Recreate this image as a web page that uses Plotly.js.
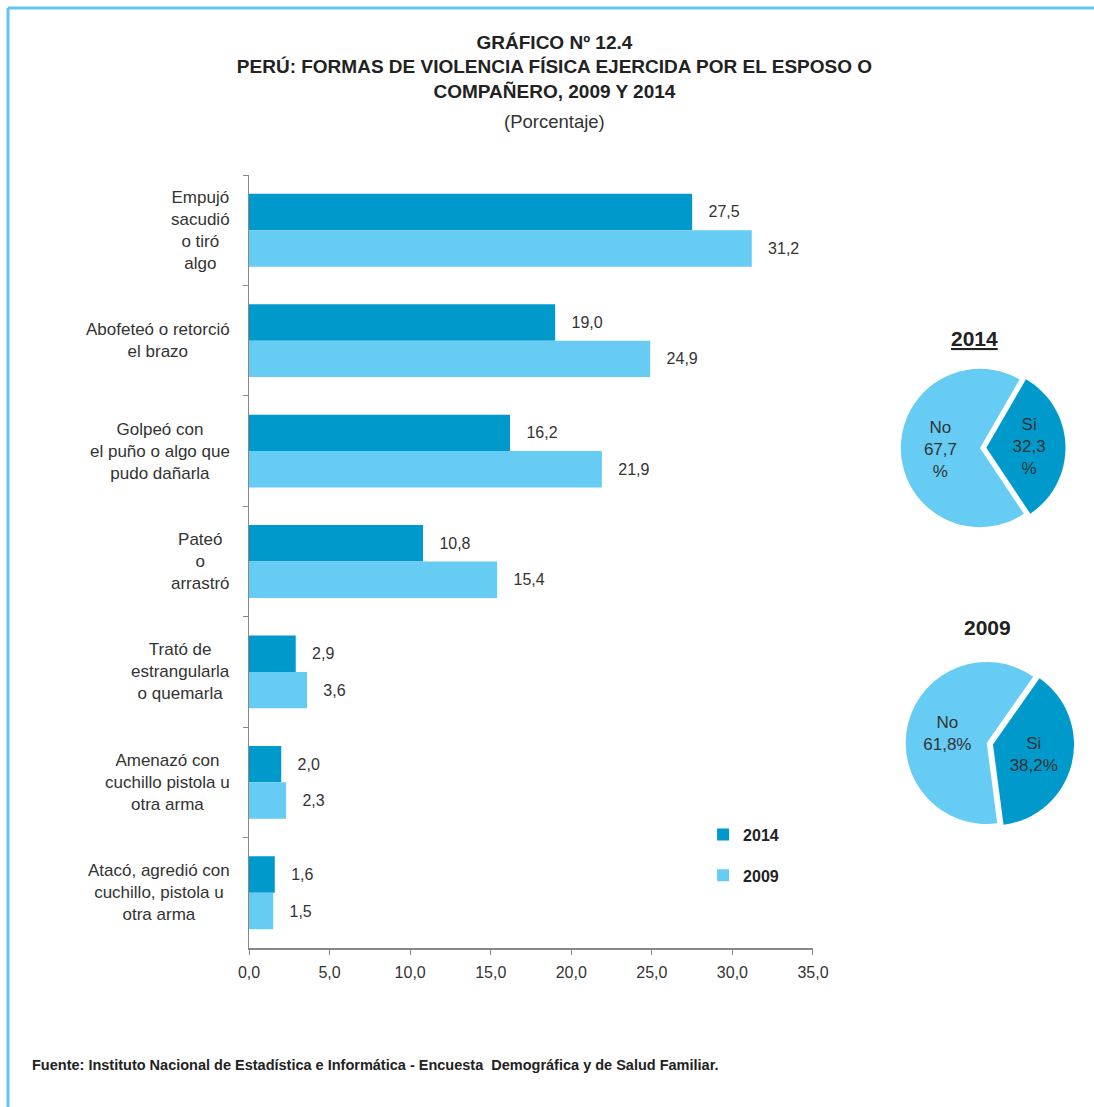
<!DOCTYPE html>
<html>
<head>
<meta charset="utf-8">
<script src="https://cdn.plot.ly/plotly-3.0.1.min.js"></script>
<style>
  html, body { margin: 0; padding: 0; background: #ffffff; }
  #chart { width: 1094px; height: 1107px; }
</style>
</head>
<body>
<div id="chart"></div>
<script>
// ---- Data ----
const categories = [
  "Empujó<br>sacudió<br>o tiró<br>algo",
  "Abofeteó o retorció<br>el brazo",
  "Golpeó con<br>el puño o algo que<br>pudo dañarla",
  "Pateó<br>o<br>arrastró",
  "Trató de<br>estrangularla<br>o quemarla",
  "Amenazó con<br>cuchillo pistola u<br>otra arma",
  "Atacó, agredió con<br>cuchillo, pistola u<br>otra arma"
];
const values2014 = [27.5, 19.0, 16.2, 10.8, 2.9, 2.0, 1.6];
const values2009 = [31.2, 24.9, 21.9, 15.4, 3.6, 2.3, 1.5];
const pieLabels = ["Si", "No"];
const pie2014 = [32.3, 67.7];
const pie2009 = [38.2, 61.8];
const xTicks = [0, 5, 10, 15, 20, 25, 30, 35];

// ---- Style ----
const FONT = "'Liberation Sans Narrow', 'Arial Narrow', 'Liberation Sans', Arial, sans-serif";
const DARK = "#0099cc";
const LIGHT = "#66ccf4";
const TXT = "#333333";
const BORDER = "#5fc6ee";

const traces = [
  {
    type: "bar", orientation: "h", name: "2014", legendgroup: "a",
    y: categories, x: values2014,
    marker: { color: DARK },
    texttemplate: "\u00a0\u00a0\u00a0%{x:.1f}", textposition: "outside",
    textfont: { family: FONT, size: 16, color: TXT },
    cliponaxis: false, hoverinfo: "skip"
  },
  {
    type: "bar", orientation: "h", name: "2009", legendgroup: "b",
    y: categories, x: values2009,
    marker: { color: LIGHT },
    texttemplate: "\u00a0\u00a0\u00a0%{x:.1f}", textposition: "outside",
    textfont: { family: FONT, size: 16, color: TXT },
    cliponaxis: false, hoverinfo: "skip"
  },
  {
    type: "pie", labels: pieLabels, values: pie2014, sort: false,
    direction: "clockwise", rotation: 30, pull: [0.08, 0],
    marker: { colors: [DARK, LIGHT], line: { width: 0 } },
    textinfo: "none", texttemplate: "%{label}<br>%{value:.1f}<br>%",
    textposition: "inside", insidetextorientation: "horizontal",
    textfont: { family: FONT, size: 17, color: TXT },
    domain: { x: [0.8219, 0.9826], y: [0.5362, 0.7574] },
    showlegend: false, hoverinfo: "skip"
  },
  {
    type: "pie", labels: pieLabels, values: pie2009, sort: false,
    direction: "clockwise", rotation: 35, pull: [0.08, 0],
    marker: { colors: [DARK, LIGHT], line: { width: 0 } },
    textinfo: "none", texttemplate: "%{label}<br>%{value:.1f}%",
    textposition: "inside", insidetextorientation: "horizontal",
    textfont: { family: FONT, size: 17, color: TXT },
    domain: { x: [0.8263, 0.9908], y: [0.1520, 0.3784] },
    showlegend: false, hoverinfo: "skip"
  }
];

const annotations = categories.map(c => ({
  xref: "paper", yref: "y", x: 0.1993, y: c,
  xanchor: "right", yanchor: "middle", align: "center",
  text: c, showarrow: false,
  font: { family: FONT, size: 17, color: TXT }
}));

annotations.push(
  { xref: "paper", yref: "paper", x: 0.8975, y: 0.789, xanchor: "center", yanchor: "middle",
    text: "<b>2014</b>", showarrow: false,
    font: { family: FONT, size: 21, color: "#222", lineposition: "under" } },
  { xref: "paper", yref: "paper", x: 0.9090, y: 0.414, xanchor: "center", yanchor: "middle",
    text: "<b>2009</b>", showarrow: false,
    font: { family: FONT, size: 21, color: "#222" } },
  { xref: "paper", yref: "paper", x: 0.5023, y: 1.0686, xanchor: "center", yanchor: "middle",
    text: "(Porcentaje)", showarrow: false,
    font: { family: FONT, size: 18.5, color: TXT } },
  { xref: "paper", yref: "paper", x: 0.0094, y: -0.1514, xanchor: "left", yanchor: "middle",
    text: "<b>Fuente: Instituto Nacional de Estadística e Informática - Encuesta  Demográfica y de Salud Familiar.</b>",
    showarrow: false, font: { family: FONT, size: 14.5, color: "#222" } }
);

const layout = {
  width: 1094, height: 1107,
  paper_bgcolor: "#ffffff", plot_bgcolor: "#ffffff",
  separators: ",.",
  font: { family: FONT, color: TXT },
  margin: { l: 20, r: 10, t: 175, b: 159, pad: 0 },
  title: {
    text: "<b>GRÁFICO Nº 12.4<br>PERÚ: FORMAS DE VIOLENCIA FÍSICA EJERCIDA POR EL ESPOSO O<br>COMPAÑERO, 2009 Y 2014</b>",
    x: 0.5023, xanchor: "center", xref: "paper",
    y: 1 - 48.5 / 1107, yanchor: "top", yref: "container",
    font: { family: FONT, size: 19, color: "#222" }
  },
  barmode: "group", bargap: 0.34, bargroupgap: 0,
  xaxis: {
    domain: [0.21523, 0.74530], range: [0, 35],
    tickvals: xTicks, tickformat: ".1f",
    ticks: "outside", ticklen: 5, tickcolor: "#888", tickwidth: 1,
    ticklabelstandoff: 4,
    showline: true, linecolor: "#888", linewidth: 1.5,
    showgrid: false, zeroline: false,
    tickfont: { family: FONT, size: 16, color: TXT }
  },
  yaxis: {
    type: "category", autorange: "reversed",
    showticklabels: false, ticks: "outside", tickson: "boundaries",
    ticklen: 5, tickcolor: "#888",
    showline: true, linecolor: "#888", linewidth: 1.5,
    showgrid: false, zeroline: false
  },
  showlegend: true,
  legend: {
    x: 0.642, y: 0.1686, xanchor: "left", yanchor: "top",
    traceorder: "grouped", tracegroupgap: 17,
    bgcolor: "rgba(0,0,0,0)",
    font: { family: FONT, size: 16, color: "#222", weight: "bold" }
  },
  annotations: annotations,
  shapes: [
    { type: "line", xref: "paper", yref: "paper", x0: -0.01128, x1: 1.0094, y0: 1.21604, y1: 1.21604,
      line: { color: BORDER, width: 3 } },
    { type: "line", xref: "paper", yref: "paper", x0: -0.01128, x1: -0.01128, y0: 1.21604, y1: -0.2057,
      line: { color: BORDER, width: 3 } }
  ]
};

Plotly.newPlot("chart", traces, layout, { displayModeBar: false, staticPlot: true });
</script>
</body>
</html>
